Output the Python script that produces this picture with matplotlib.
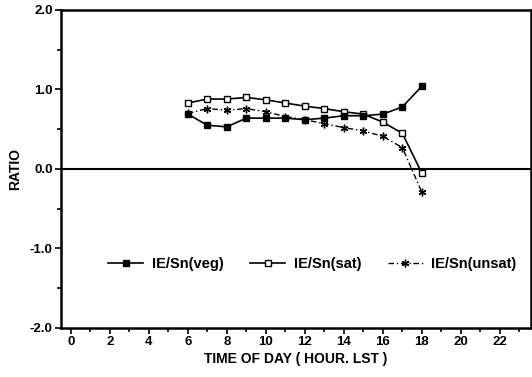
import numpy as np
import matplotlib.pyplot as plt
from matplotlib.ticker import MultipleLocator, FormatStrFormatter

hours = [6, 7, 8, 9, 10, 11, 12, 13, 14, 15, 16, 17, 18]
veg = [0.69, 0.55, 0.53, 0.64, 0.64, 0.64, 0.62, 0.64, 0.67, 0.67, 0.69, 0.78, 1.04]
sat = [0.83, 0.88, 0.88, 0.90, 0.87, 0.83, 0.79, 0.76, 0.72, 0.69, 0.59, 0.45, -0.05]
unsat = [0.70, 0.76, 0.74, 0.76, 0.72, 0.66, 0.62, 0.57, 0.52, 0.48, 0.41, 0.27, -0.29]
labels = ['IE/Sn(veg)', 'IE/Sn(sat)', 'IE/Sn(unsat)']

plt.rcParams['font.family'] = ['Liberation Sans', 'DejaVu Sans']
plt.rcParams['font.weight'] = 'bold'

fig = plt.figure(figsize=(5.32, 3.77), dpi=100)
ax = fig.add_axes([0.115, 0.13, 0.883, 0.8435])

ax.axhline(0, color='black', lw=1.5, zorder=1)
ax.plot(hours, veg, '-', color='black', lw=1.2, marker='s', ms=5,
        mfc='black', mec='black', label=labels[0], zorder=3)
ax.plot(hours, sat, '-', color='black', lw=1.2, marker='s', ms=5,
        mfc='white', mec='black', mew=1.0, label=labels[1], zorder=2)
ax.plot(hours, unsat, color='black', lw=1.0, ls=(0, (4, 2, 1, 2)),
        marker=(6, 2, 0), ms=5.5, mec='black', label=labels[2], zorder=2)

ax.set_xlim(-0.5, 23.6)
ax.set_ylim(-2.0, 2.0)
ax.xaxis.set_major_locator(MultipleLocator(2))
ax.xaxis.set_minor_locator(MultipleLocator(1))
ax.yaxis.set_major_locator(MultipleLocator(1))
ax.yaxis.set_minor_locator(MultipleLocator(0.5))
ax.yaxis.set_major_formatter(FormatStrFormatter('%.1f'))
ax.set_xticks(range(0, 23, 2))
ax.tick_params(which='both', direction='out', width=1.2, labelsize=9.5, pad=2)
ax.tick_params(which='major', length=4)
ax.tick_params(which='minor', length=3)
for s in ax.spines.values():
    s.set_linewidth(1.8)

ax.set_xlabel('TIME OF DAY ( HOUR. LST )', fontsize=10, fontweight='bold', labelpad=3)
ax.set_ylabel('RATIO', fontsize=10, fontweight='bold', labelpad=6)

ax.legend(loc='center', bbox_to_anchor=(0.535, 0.2), ncol=3, frameon=False,
          fontsize=10.5, handlelength=2.4, columnspacing=1.8, handletextpad=0.6)

fig.savefig('out.png', dpi=100)
